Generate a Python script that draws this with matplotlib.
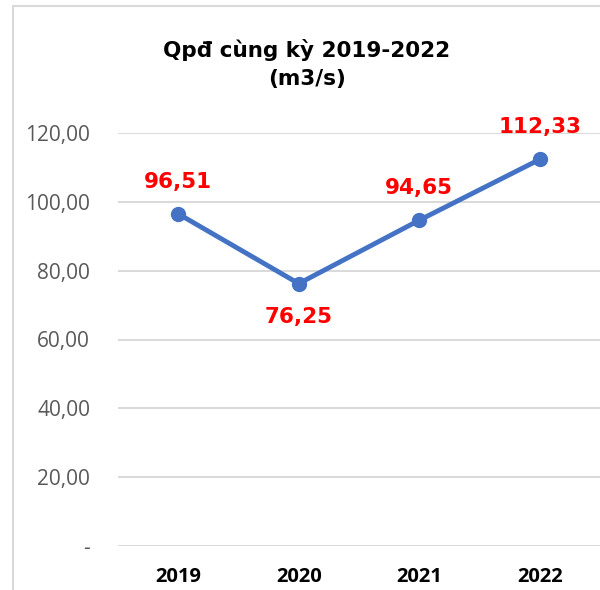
import matplotlib.pyplot as plt
from matplotlib.patches import Rectangle

years = ["2019", "2020", "2021", "2022"]
flow = [96.51, 76.25, 94.65, 112.33]
label_pos = ["above", "below", "above", "above"]
y_ticks = [0, 20, 40, 60, 80, 100, 120]
y_tick_labels = ["-", "20,00", "40,00", "60,00", "80,00", "100,00", "120,00"]

fig = plt.figure(figsize=(6, 5.9), dpi=100)
ax = fig.add_axes([118 / 600, 1 - 546 / 590, 1 - 118 / 600, (546 - 133) / 590])

# chart frame (cut off on the right and bottom like the screenshot)
fig.patches.append(Rectangle((13 / 600, -0.1), 1.2, 1.1 - 6 / 590,
                             transform=fig.transFigure, fill=False,
                             edgecolor="#D9D9D9", linewidth=1.5))

x = range(len(years))
ax.plot(x, flow, color="#4472C4", linewidth=3.5, marker="o", markersize=10,
        zorder=3, clip_on=False)

for i, v in enumerate(flow):
    txt = f"{v:.2f}".replace(".", ",")
    dy = 23 if label_pos[i] == "above" else -24
    ax.annotate(txt, (i, v), xytext=(0, dy), textcoords="offset points",
                ha="center", va="center", color="#FF0000", fontsize=15.5,
                fontweight="bold", family="DejaVu Sans", annotation_clip=False)

ax.set_xlim(-0.5, 3.5)
ax.set_ylim(0, 120)
ax.set_yticks(y_ticks)
ax.set_yticklabels(y_tick_labels, family="Open Sans", fontsize=15, color="#595959")
ax.set_xticks(list(x))
ax.set_xticklabels(years, family="Open Sans", fontsize=14.5, fontweight="bold", color="black")
ax.tick_params(axis="y", length=0, pad=20)
ax.tick_params(axis="x", length=0, pad=15)
ax.grid(axis="y", color="#D9D9D9", linewidth=1.4)
ax.set_axisbelow(True)
for s in ax.spines.values():
    s.set_visible(False)

fig.text(307 / 600, 1 - 64 / 590, "Qpđ cùng kỳ 2019-2022\n(m3/s)", ha="center", va="center",
         fontsize=15.5, fontweight="bold", family="DejaVu Sans", linespacing=1.45)

fig.savefig("out.png", dpi=100)
